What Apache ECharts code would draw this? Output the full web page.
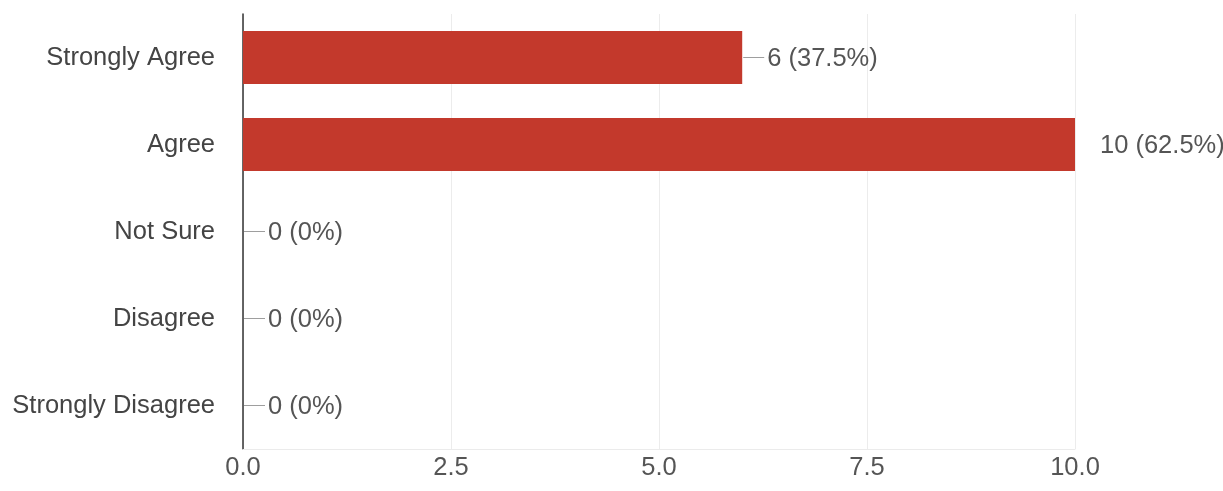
<!DOCTYPE html>
<html>
<head>
<meta charset="utf-8">
<script src="https://cdn.jsdelivr.net/npm/echarts@6/dist/echarts.min.js"></script>
<style>
html,body{margin:0;padding:0;background:#fff;}
#chart{width:1223px;height:491px;}
</style>
</head>
<body>
<div id="chart"></div>
<script>
const categories = ['Strongly Agree', 'Agree', 'Not Sure', 'Disagree', 'Strongly Disagree'];
const counts = [6, 10, 0, 0, 0];
const percents = ['37.5%', '62.5%', '0%', '0%', '0%'];
const xTicks = [0, 2.5, 5, 7.5, 10];

const FONT = '"Liberation Sans", Arial, sans-serif';
const FS = 25.5;
const chart = echarts.init(document.getElementById('chart'), null, {renderer: 'canvas'});

const seriesData = counts.map((v, i) => ({
  value: v,
  label: {
    rich: {
      line: {width: 21, height: 1, backgroundColor: (i === 1 ? 'transparent' : '#9e9e9e'), padding: 0},
      t: {fontSize: FS, color: '#555', fontFamily: FONT, padding: [3, 0, 0, 3]}
    }
  }
}));

chart.setOption({
  animation: false,
  grid: {left: 243, right: 148, top: 14, bottom: 42, containLabel: false},
  xAxis: {
    type: 'value',
    min: xTicks[0], max: xTicks[xTicks.length - 1], interval: xTicks[1] - xTicks[0],
    axisLine: {show: true, lineStyle: {color: '#ebebeb', width: 1}},
    axisTick: {show: false},
    splitLine: {show: true, lineStyle: {color: '#ececec', width: 1}},
    axisLabel: {
      margin: 6, fontSize: FS, color: '#555', fontFamily: FONT,
      formatter: v => v.toFixed(1)
    }
  },
  yAxis: {
    type: 'category',
    data: categories,
    inverse: true,
    axisLine: {show: true, lineStyle: {color: '#333', width: 1.5}},
    axisTick: {show: false},
    splitLine: {show: false},
    axisLabel: {margin: 28, fontSize: FS, color: '#444', fontFamily: FONT, padding: [5, 0, 0, 0]}
  },
  series: [{
    type: 'bar',
    data: seriesData,
    barCategoryGap: '39%',
    itemStyle: {color: '#c3392c'},
    label: {
      show: true,
      position: 'right',
      distance: 1,
      formatter: p => '{line|}{t|' + counts[p.dataIndex] + ' (' + percents[p.dataIndex] + ')}'
    }
  }]
});
</script>
</body>
</html>
